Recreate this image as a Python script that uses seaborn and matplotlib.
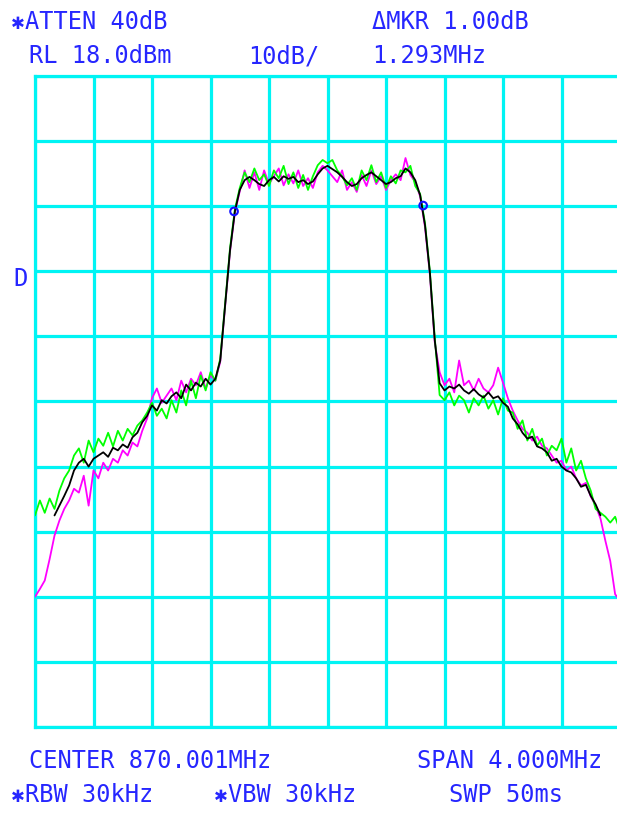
import numpy as np
import pandas as pd
import matplotlib
matplotlib.use("Agg")
import matplotlib.pyplot as plt
import seaborn as sns

# ---------------- instrument settings ----------------
center_mhz = 870.001
span_mhz = 4.0
ref_level = 18.0
db_per_div = 10
n_div = 10

nan = np.nan
# ---------------- traces (dBm), sweep from left to right ----------------
trace_black = [nan, nan, nan, nan, -49.5, -48.0, -46.5, -44.9, -42.6, -41.4,
               -40.8, -42.0, -40.8, -40.3, -39.8, -40.5, -39.1, -39.5, -38.6, -39.1,
               -37.5, -36.8, -35.2, -34.2, -32.6, -33.4, -31.8, -32.3, -31.2, -30.6,
               -31.5, -29.4, -30.3, -29.1, -29.7, -28.5, -29.4, -28.5, -25.7, -17.2,
               -8.8, -2.8, 0.5, 2.0, 2.5, 2.0, 1.4, 1.1, 2.0, 2.5,
               1.8, 2.6, 2.2, 2.5, 1.7, 2.0, 1.4, 1.8, 2.9, 3.8,
               4.2, 3.7, 3.2, 2.5, 1.7, 1.1, 1.4, 2.3, 2.8, 3.2,
               2.6, 2.0, 1.4, 1.7, 2.3, 2.6, 3.8, 3.2, 2.0, -0.3,
               -4.9, -12.2, -22.6, -29.2, -30.3, -29.7, -30.0, -29.4, -30.3, -30.8,
               -30.1, -30.9, -31.4, -30.6, -31.5, -31.2, -32.2, -32.8, -34.6, -35.5,
               -36.8, -37.7, -37.4, -38.9, -39.2, -39.8, -41.1, -40.8, -42.0, -42.6,
               -42.9, -43.8, -45.1, -44.8, -46.5, -47.8, -49.5, nan, nan, nan,
               nan]

trace_green = [-49.5, -47.2, -49.1, -46.9, -48.5, -45.7, -43.8, -42.6, -40.3, -39.2,
               -41.4, -38.0, -39.8, -37.7, -38.8, -36.8, -38.9, -36.5, -38.0, -36.2,
               -37.2, -35.7, -34.9, -33.7, -32.2, -34.2, -33.1, -34.6, -31.8, -33.7,
               -30.3, -32.6, -28.8, -31.5, -28.0, -30.3, -27.5, -28.8, -25.4, -17.0,
               -8.5, -2.5, 0.8, 3.2, 1.7, 3.8, 2.0, 2.9, 1.1, 3.5,
               2.3, 4.2, 1.4, 3.2, 0.8, 2.8, 0.5, 2.6, 4.3, 5.1,
               4.6, 5.1, 3.5, 2.6, 1.2, 2.3, 0.5, 3.5, 2.0, 4.3,
               1.7, 3.2, 0.8, 2.6, 1.5, 3.5, 3.2, 4.2, 1.1, -0.1,
               -4.6, -12.0, -22.2, -31.0, -31.8, -30.6, -32.6, -31.1, -31.8, -33.7,
               -31.5, -32.6, -31.1, -33.1, -31.8, -34.0, -31.5, -33.4, -33.7, -36.2,
               -34.9, -38.0, -36.2, -38.8, -37.7, -40.3, -38.8, -39.5, -37.7, -41.4,
               -39.2, -42.6, -41.1, -43.8, -45.7, -48.5, -49.1, -49.7, -50.6, -49.7,
               -51.8]

trace_magenta = [-62.0, -60.8, -59.5, -56.2, -52.6, -50.3, -48.5, -47.2, -45.4, -46.0,
                 -43.4, -48.0, -42.6, -43.8, -41.4, -42.6, -40.8, -41.4, -39.5, -40.3,
                 -38.3, -38.9, -36.5, -34.6, -31.5, -30.0, -32.2, -31.1, -30.0, -31.8,
                 -28.8, -30.6, -28.5, -29.5, -27.5, -30.0, -28.0, -28.8, -25.9, -17.4,
                 -9.0, -3.0, 0.3, 3.5, 0.8, 3.2, 0.5, 3.5, 1.4, 2.6,
                 3.8, 1.2, 2.9, 1.5, 3.5, 1.1, 2.3, 0.8, 3.2, 4.2,
                 3.5, 2.6, 1.7, 3.5, 0.5, 1.7, 0.2, 2.8, 1.1, 3.5,
                 1.4, 2.6, 0.5, 2.0, 2.9, 2.0, 5.4, 2.8, 1.7, -0.5,
                 -5.2, -12.5, -22.9, -27.5, -29.5, -28.5, -30.6, -25.7, -29.5, -28.8,
                 -30.3, -28.5, -30.0, -30.6, -29.5, -26.8, -29.1, -31.5, -33.4, -34.9,
                 -36.2, -36.8, -38.0, -37.4, -38.8, -39.2, -40.3, -41.4, -41.1, -42.6,
                 -42.0, -43.8, -44.9, -44.5, -46.6, -48.0, -50.0, -53.4, -56.5, -61.6,
                 -62.6]

marker_freq = [869.362, 870.655]
marker_level = [-2.8, -1.9]

header_top = ["✱ATTEN 40dB", "ΔMKR 1.00dB"]
header_second = ["RL 18.0dBm", "10dB/", "1.293MHz"]
footer_first = ["CENTER 870.001MHz", "SPAN 4.000MHz"]
footer_second = ["✱RBW 30kHz", "✱VBW 30kHz", "SWP 50ms"]

# ---------------- styling ----------------
sns.set_theme(style="white")
plt.rcParams["font.family"] = ["DejaVu Sans Mono", "DejaVu Sans"]

TXT = "#2626ff"
GRID = "#00f4f4"

W, H = 617, 815
fig = plt.figure(figsize=(W / 100, H / 100), dpi=100)
fig.patch.set_facecolor("white")
ax = fig.add_axes([35 / W, (H - 727) / H, 585 / W, 651 / H])
ax.set_facecolor("white")

f0 = center_mhz - span_mhz / 2
f1 = center_mhz + span_mhz / 2
bottom_level = ref_level - n_div * db_per_div


def draw_trace(vals, color, z):
    df = pd.DataFrame({"freq": np.linspace(f0, f1, len(vals)), "level": vals})
    sns.lineplot(data=df, x="freq", y="level", color=color, lw=1.3,
                 estimator=None, sort=False, ax=ax, zorder=z)


draw_trace(trace_magenta, "#ff00ff", 3)
draw_trace(trace_green, "#00ff00", 4)
draw_trace(trace_black, "#000000", 5)

mk = pd.DataFrame({"freq": marker_freq, "level": marker_level})
sns.scatterplot(data=mk, x="freq", y="level", ax=ax, s=30, marker="o",
                facecolors="none", edgecolor="#1010ff", linewidth=1.5, zorder=6)

ax.set_xlim(f0, f1)
ax.set_ylim(bottom_level, ref_level)
ax.set_xticks(np.linspace(f0, f1, n_div + 1))
ax.set_yticks(np.linspace(bottom_level, ref_level, n_div + 1))
ax.tick_params(length=0, labelbottom=False, labelleft=False)
ax.grid(True, color=GRID, lw=2.3)
ax.set_axisbelow(True)
ax.set_xlabel("")
ax.set_ylabel("")
for sp in ax.spines.values():
    sp.set_color(GRID)
    sp.set_linewidth(2.3)

FS = 17
ADV = 14.4


def put(s, x, y_base):
    # heavy asterisk drawn in its own character cell so the rest stays aligned
    if s.startswith("✱"):
        fig.text((x + ADV / 2) / W, 1 - y_base / H, "✱", color=TXT,
                 fontsize=FS - 5, ha="center", va="baseline",
                 family=["DejaVu Sans"])
        s = s[1:]
        x = x + ADV
    fig.text(x / W, 1 - y_base / H, s, color=TXT, fontsize=FS,
             ha="left", va="baseline")


put(header_top[0], 11, 29)
put(header_top[1], 372, 29)
put(header_second[0], 29, 63)
put(header_second[1], 248, 63)
put(header_second[2], 372, 63)
put("D", 13, 286)
put(footer_first[0], 29, 768)
put(footer_first[1], 417, 768)
put(footer_second[0], 11, 802)
put(footer_second[1], 214, 802)
put(footer_second[2], 449, 802)

fig.savefig("out.png", dpi=100, facecolor="white")
